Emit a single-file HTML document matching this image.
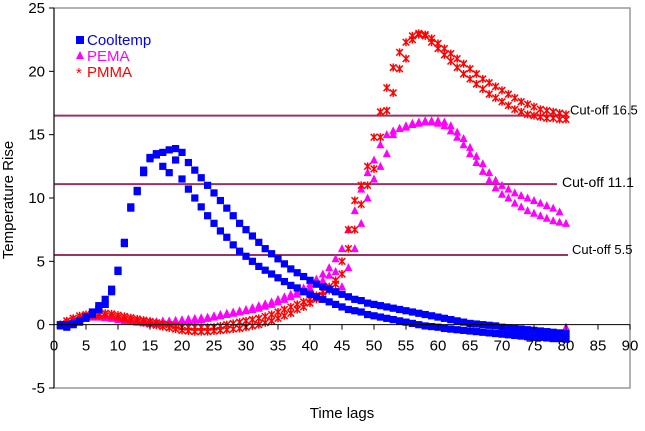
<!DOCTYPE html>
<html><head><meta charset="utf-8"><style>
body{margin:0;background:#fff;font-family:"Liberation Sans",sans-serif;}
svg text{font-family:"Liberation Sans",sans-serif;}
</style></head><body>
<svg id="chart" width="645" height="426" xmlns="http://www.w3.org/2000/svg">
<rect x="0" y="0" width="645" height="426" fill="#fff"/>
<g id="grid"></g>
<g id="marks"></g>
<g id="axes"></g>
</svg>
<script>
const xTicks=[0,5,10,15,20,25,30,35,40,45,50,55,60,65,70,75,80,85,90];
const yTicks=[-5,0,5,10,15,20,25];
const cutoffs=[16.5,11.1,5.5];
const cutoffLabels=["Cut-off 16.5","Cut-off 11.1","Cut-off 5.5"];
const coolA=[0,0,0.1,0.3,0.6,1.0,1.5,2.0,2.8,4.3,
6.5,9.3,10.6,12.2,13.2,13.5,13.6,13.8,13.9,13.6,
12.8,12.2,11.6,11.0,10.4,9.8,9.2,8.6,8.0,7.5,
7.0,6.5,6.0,5.6,5.2,4.8,4.4,4.1,3.8,3.5,
3.2,3.0,2.8,2.6,2.4,2.2,2.0,1.9,1.7,1.6,
1.5,1.4,1.3,1.2,1.1,1.0,0.9,0.8,0.7,0.6,
0.5,0.4,0.3,0.2,0.1,0.05,0,-0.05,-0.1,-0.2,
-0.25,-0.3,-0.35,-0.4,-0.45,-0.5,-0.55,-0.6,-0.65,-0.7];
const coolB=[-0.1,-0.2,0,0.2,0.5,0.8,1.2,1.6,2.6,4.2,
6.4,9.2,10.5,12.0,13.1,13.4,12.5,12.0,13.0,11.5,
10.7,10.0,9.3,8.6,8.0,7.4,6.9,6.3,5.8,5.4,
5.0,4.6,4.3,4.0,3.7,3.4,3.1,2.9,2.6,2.4,
2.2,2.0,1.8,1.6,1.4,1.2,1.1,1.0,0.8,0.7,
0.6,0.5,0.4,0.3,0.2,0.1,0,-0.1,-0.15,-0.2,
-0.3,-0.35,-0.4,-0.45,-0.5,-0.55,-0.6,-0.65,-0.7,-0.75,
-0.8,-0.85,-0.9,-0.95,-1.0,-1.0,-1.05,-1.1,-1.1,-1.15];
const pemaA=[0,0.3,0.5,0.6,0.7,0.75,0.8,0.75,0.7,0.6,
0.5,0.45,0.4,0.35,0.3,0.25,0.3,0.3,0.35,0.4,
0.45,0.5,0.55,0.6,0.7,0.8,0.9,1.0,1.1,1.2,
1.35,1.5,1.65,1.8,2.0,2.2,2.4,2.6,2.9,3.2,
3.6,4.0,4.5,5.2,6.0,7.5,9.0,10.7,12.0,13.0,
14.2,15.0,15.3,15.5,15.7,15.9,16.0,16.1,16.1,16.1,
16.0,15.7,15.2,14.7,14.0,13.3,12.7,12.0,11.4,11.0,
10.7,10.4,10.2,10.0,9.8,9.6,9.4,9.2,8.9,-0.2];
const pemaB=[0,0.2,0.4,0.5,0.6,0.6,0.6,0.55,0.5,0.4,
0.3,0.25,0.2,0.15,0.1,0.1,0.15,0.2,0.2,0.25,
0.3,0.35,0.4,0.5,0.6,0.7,0.8,0.9,1.0,1.1,
1.2,1.3,1.45,1.6,1.8,2.0,2.2,2.4,2.6,2.9,
3.2,3.5,3.9,4.2,3.0,4.5,6.0,8.0,10.0,11.5,
12.5,13.5,15.0,15.5,15.6,15.8,15.9,16.0,16.0,15.9,
15.7,15.3,14.8,14.2,13.5,12.8,12.1,11.4,10.8,10.3,
10.0,9.6,9.3,9.0,8.8,8.6,8.4,8.2,8.1,8.0];
const pmmaA=[0,0.3,0.5,0.7,0.8,0.85,0.9,0.9,0.85,0.75,
0.65,0.55,0.45,0.35,0.25,0.15,0.05,0,-0.1,-0.2,
-0.2,-0.2,-0.2,-0.2,-0.2,-0.1,0,0.1,0.2,0.3,
0.4,0.5,0.65,0.8,1.0,1.2,1.4,1.6,1.8,2.0,
2.3,2.6,3.0,3.5,5.0,7.5,9.8,11.0,12.5,14.8,
16.8,18.7,20.3,21.5,22.3,22.8,23.0,22.9,22.6,22.2,
21.8,21.4,21.0,20.6,20.2,19.8,19.4,19.1,18.8,18.5,
18.2,17.9,17.6,17.4,17.2,17.0,16.9,16.8,16.7,16.6];
const pmmaB=[0,0.1,0.3,0.5,0.6,0.7,0.7,0.7,0.65,0.55,
0.45,0.35,0.25,0.15,0.05,-0.05,-0.15,-0.25,-0.35,-0.45,
-0.5,-0.55,-0.55,-0.55,-0.5,-0.45,-0.4,-0.35,-0.3,-0.2,
-0.1,0,0.15,0.3,0.5,0.7,0.9,1.2,1.4,1.7,
2.0,2.3,2.7,3.2,4.0,6.0,7.5,9.5,11.0,12.3,
14.8,16.9,18.3,20.2,21.0,22.5,22.9,22.8,22.3,21.8,
21.3,20.8,20.3,19.8,19.4,19.0,18.6,18.2,17.9,17.6,
17.3,17.0,16.8,16.6,16.5,16.4,16.3,16.3,16.2,16.2];

const X0=54,X1=630,Y0=388,Y1=8;
const xs=v=>X0+(v-0)/90*(X1-X0);
const ys=v=>Y0-(v+5)/30*(Y0-Y1);
const NS="http://www.w3.org/2000/svg";
function mk(tag,attrs,parent){const e=document.createElementNS(NS,tag);for(const k in attrs)e.setAttribute(k,attrs[k]);parent.appendChild(e);return e;}
const grid=document.getElementById('grid'),marks=document.getElementById('marks'),axes=document.getElementById('axes');

let pb=mk('rect',{x:X0,y:Y1,width:X1-X0,height:Y0-Y1,fill:'none',stroke:'#999','stroke-width':1.5},grid);



const cutEnds=[566,557,568];
cutoffs.forEach((c,i)=>{
  const l=mk('line',{x1:X0,x2:cutEnds[i],y1:ys(c),y2:ys(c),stroke:'#993366','stroke-width':2},grid);
  
  
  const t=mk('text',{x:cutEnds[i]+(i==1?5:4),y:ys(c)+(i==1?3:-1),'font-size':i==1?14:13,fill:'#000'},grid);
  t.textContent=cutoffLabels[i];
  
  
});

function drawSquare(v,i){const x=xs(i+1),y=ys(v);const r=mk('rect',{x:x-3.6,y:y-3.6,width:7.2,height:7.2,fill:'#0000ff'},marks);

}
function drawTri(v,i){const x=xs(i+1),y=ys(v);const p=mk('polygon',{points:`${x},${y-4.5} ${x-4},${y+3.5} ${x+4},${y+3.5}`,fill:'#ff00ff'},marks);

}
function drawStar(v,i){const x=xs(i+1),y=ys(v);const p=mk('path',{d:`M${x-3.3},${y-3.3}L${x+3.3},${y+3.3}M${x+3.3},${y-3.3}L${x-3.3},${y+3.3}M${x},${y-4}L${x},${y+4}`,stroke:'#ff0000','stroke-width':1.5},marks);

}
pemaA.forEach(drawTri);pemaB.forEach(drawTri);
pmmaA.forEach(drawStar);pmmaB.forEach(drawStar);
coolA.forEach(drawSquare);coolB.forEach(drawSquare);

const xa=mk('line',{x1:X0,x2:X1,y1:ys(0),y2:ys(0),stroke:'#000','stroke-width':1},axes);


xTicks.forEach(t=>{
  const tk=mk('line',{x1:xs(t),x2:xs(t),y1:ys(0),y2:ys(0)+5,stroke:'#000'},axes);
  
  
  const tx=mk('text',{x:xs(t),y:ys(0)+26,'text-anchor':'middle','font-size':15},axes);
  tx.textContent=t;
  
  
});
const ya=mk('line',{x1:X0,x2:X0,y1:Y1,y2:Y0,stroke:'#000'},axes);


yTicks.forEach(t=>{
  const tk=mk('line',{x1:X0-5,x2:X0,y1:ys(t),y2:ys(t),stroke:'#000'},axes);
  
  
  const tx=mk('text',{x:X0-9,y:ys(t)+5,'text-anchor':'end','font-size':15},axes);
  tx.textContent=t;
  
  
});
</script>
<svg width="645" height="426" style="position:absolute;left:0;top:0">
<text x="13" y="200" font-size="15" transform="rotate(-90 13 200)" text-anchor="middle" font-family="Liberation Sans">Temperature Rise</text>
<text x="342" y="418" font-size="15" text-anchor="middle" font-family="Liberation Sans">Time lags</text>
<g font-family="Liberation Sans" font-size="15">
<rect x="76" y="36" width="8" height="8" fill="#0000ff"/>
<text x="87" y="45" fill="#0000ff">Cooltemp</text>
<polygon points="80,51 76,59 84,59" fill="#ff00ff"/>
<text x="87" y="61" fill="#ff00ff">PEMA</text>
<text x="76" y="78" fill="#ff0000">*</text>
<text x="87" y="77" fill="#ff0000">PMMA</text>
</g>
</svg>
</body></html>
